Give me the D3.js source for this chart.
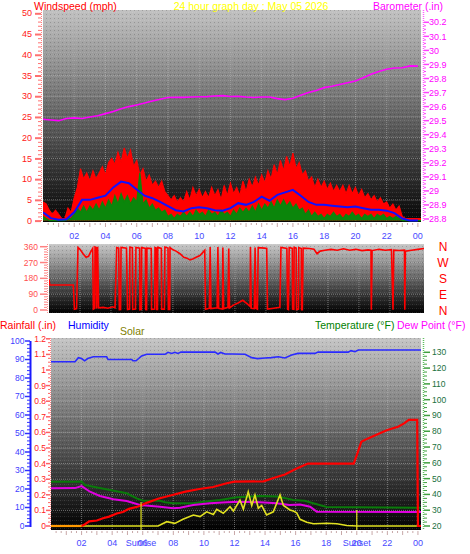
<!DOCTYPE html>
<html><head><meta charset="utf-8">
<script src="https://cdn.jsdelivr.net/npm/d3@7"></script>
<style>
body{margin:0;background:#fff}
svg{display:block}
text{font-family:"Liberation Sans",Arial,sans-serif}
</style>
</head><body>
<svg id="c" width="470" height="554"></svg>
<script>
// ---------------- DATA ----------------
const title = "24 hour graph day : May 05 2026";
const hourTicks = [2,4,6,8,10,12,14,16,18,20,22,24];
const hourLabels = ["02","04","06","08","10","12","14","16","18","20","22","00"];
const windTicks = [0,5,10,15,20,25,30,35,40,45,50];
const baroTicks = [28.8,28.9,29,29.1,29.2,29.3,29.4,29.5,29.6,29.7,29.8,29.9,30,30.1,30.2];
const dirTicks = [0,90,180,270,360];
const compass = ["N","W","S","E","N"];
const humTicks = [0,10,20,30,40,50,60,70,80,90,100];
const rainTicks = [0,0.1,0.2,0.3,0.4,0.5,0.6,0.7,0.8,0.9,1,1.1,1.2];
const tempTicks = [20,30,40,50,60,70,80,90,100,110,120,130];

// wind samples every 0.2 h (mph)
const windStep = 0.2;
const windGust = [4.5,4,2.5,1.5,2.5,1.5,0.5,0.5,3,2,5.5,8,12.5,10,11.5,9.5,12,10,11.5,13,
 11,14,15,13.5,16.5,14,17.5,15,17,13,14.5,11,12.5,9.5,11,8.5,9.5,8,9.5,7,
 6,5,6,4.5,5.5,4.5,7,5,8,6,7.5,5.5,7,5.5,8,6,7.5,5,8.5,6,
 9,6.5,8,6,9.5,7,10,8,10.5,8.5,11,9,12,10,13.5,11,14.5,12,15.5,13,
 16.3,12.5,14,11,12,9.5,10.5,8,10,8,9.5,7.5,9,7,8.5,7,8.5,6.5,8.5,6.5,
 8,6,7.5,5.5,6.5,5,6,4.5,5.5,4,4.5,3,4,2.5,3.5,1,0.5,0.5,0.5,0.5,0.5,0.5];
const windLow = [1,0.5,0,0,0,0,0,0,0.5,0.5,1.5,3,2,3.5,2,3.5,2.5,4,2.5,4.5,
 3,5,3.5,6,4,6.5,4.5,6,4,5.5,4.5,11.5,4,5,3,4,2.5,3,2,2.5,
 1,1.5,0.5,1.5,1,2,1,2,1,2.5,1.5,2,1,2.5,1.5,2,1,2.5,1.5,2,
 1,2.5,1.5,3,2,3,2,3.5,2,4,2.5,4,3,4.5,3,5,3.5,5,3.5,4.5,
 3,4,2.5,3,1.5,2.5,1,2,1,1.5,0.5,1.5,1,2,1,1.5,0.5,1.5,1,2,
 1,1.5,0.5,1.5,1,1.5,0.5,1.5,1,1.5,0.5,1,0.5,1,0.5,0,0,0,0,0,0,0];
// average wind every 0.5 h
const avgStep = 0.5;
const windAvg = [2,0.6,0.2,0.3,2,5,5,5.5,6,8,9.4,9,7.5,6,5.4,4.5,3.5,2.5,2.2,3,
 3.2,3,2.5,2.4,3,4.2,3.8,4.5,5.8,4.8,6.2,6.8,7.4,6,4.5,3.8,3.8,3.6,3.4,3.2,
 3.4,3,2.6,2.6,2.4,1.8,0.5,0,0];
// barometer every 0.5 h (inHg)
const baroStep = 0.5;
const baro = [29.51,29.505,29.50,29.515,29.52,29.515,29.526,29.535,29.55,29.565,29.585,29.60,29.612,29.625,29.64,29.652,
 29.665,29.667,29.666,29.668,29.67,29.671,29.675,29.678,29.672,29.673,29.668,29.665,29.668,29.668,29.657,29.65,
 29.66,29.68,29.70,29.715,29.735,29.745,29.757,29.77,29.782,29.805,29.83,29.85,29.866,29.875,29.877,29.89,29.888];

// wind direction [hour, degrees]
const windDir = [[0,175],[0.05,142],[1.57,142],[1.64,5],[1.78,8],[1.87,355],[2.0,345],[2.2,320],[2.39,300],[2.55,305],[2.69,330],[2.82,350],
 [2.86,5],[2.95,10],[2.97,358],[3.05,355],[3.08,8],[3.14,360],[3.2,12],[3.5,15],[3.8,10],[4.1,18],[4.26,12],
 [4.37,355],[4.5,352],[4.54,2],[4.62,3],[4.65,356],[5.0,352],[5.07,3],[5.2,5],[5.22,357],[5.38,355],[5.4,4],[5.58,6],[5.61,356],
 [5.85,352],[5.87,2],[5.96,4],[5.98,355],[6.22,350],[6.24,3],[6.3,2],[6.32,352],[6.6,350],[6.62,4],[6.82,6],[6.84,355],[6.93,352],[6.95,3],[7.0,3],[7.02,356],
 [7.25,350],[7.27,5],[7.45,5],[7.48,358],[7.68,352],[7.7,3],[7.79,3],[7.81,355],[8.0,342],[8.2,335],[8.45,320],[8.7,300],[8.9,295],[9.1,285],[9.31,292],
 [9.5,300],[9.74,310],[9.9,325],[10.05,340],[10.1,4],[10.35,10],[10.4,358],[10.45,8],[10.85,12],[10.9,358],[10.95,10],[11.2,5],[11.22,355],[11.27,8],
 [11.55,15],[11.6,350],[11.65,12],[11.9,28],[12.2,40],[12.5,55],[12.8,35],[12.98,20],[13.0,358],[13.05,10],[13.25,8],[13.3,355],[13.35,10],[13.45,5],[13.5,355],
 [13.9,352],[14.05,350],[14.1,5],[14.5,10],[14.9,15],[14.97,356],[15.35,350],[15.4,5],[15.45,3],[15.5,355],[15.7,350],[15.72,5],[15.8,4],[15.82,356],
 [15.95,352],[15.97,3],[16.1,5],[16.12,355],[16.28,350],[16.3,2],[16.35,2],[16.4,352],[16.8,350],[17.1,345],[17.3,320],[17.5,335],[17.8,340],
 [18.2,345],[18.6,340],[19.0,348],[19.4,340],[19.8,345],[20.2,338],[20.6,342],[20.78,340],[20.8,2],[20.85,338],[21.3,345],[21.7,340],[22.1,343],
 [22.2,2],[22.25,340],[22.6,338],[22.94,340],[22.96,2],[23.0,335],[23.4,340],[23.8,345],[24.2,350]];

// bottom panel
const humidity = [[0,88.8],[1.57,88.8],[1.79,91],[2.0,90.5],[2.2,89.3],[2.4,90.5],[2.77,91.5],[3.64,91.5],[3.73,90],[5.28,90],[5.36,89.3],[5.56,89.3],
 [5.93,91.9],[6.26,92.8],[7.46,92.8],[7.65,93.9],[7.9,93.3],[8.1,93.9],[8.3,93.3],[8.5,94],[10.73,94],[10.92,93],[11.1,93.8],[11.38,93],[11.84,93],
 [12.69,92.8],[13.13,91],[13.5,90.5],[14.0,90.8],[14.4,91],[14.87,91.5],[15.3,90.8],[15.74,92.4],[16.15,93.3],[17.27,93.3],[17.46,94],[19.44,94],
 [19.62,94.8],[19.88,94.2],[20.1,95.1],[24.2,95.1]];
const rainfall = [[0,0],[2.0,0],[2.2,0.01],[2.5,0.03],[3.0,0.035],[3.4,0.05],[3.8,0.06],[4.3,0.08],[4.7,0.09],[5.1,0.11],[5.7,0.125],[6.3,0.15],
 [7.0,0.175],[8.0,0.2],[8.8,0.22],[9.7,0.237],[10.6,0.25],[11.5,0.274],[12.0,0.284],[13.9,0.286],[14.5,0.306],[15.3,0.33],[16.0,0.365],[16.8,0.4],
 [19.8,0.40],[20.0,0.455],[20.3,0.54],[20.7,0.56],[21.4,0.59],[22.0,0.615],[22.7,0.636],[23.1,0.658],[23.4,0.68],[23.95,0.68],[24.0,0],[24.2,0]];
const temperature = [[0,48],[1.57,48],[2.0,48.2],[2.22,46],[2.77,44.9],[3.86,42.8],[4.95,40.7],[5.6,37.5],[6.04,36],[7.13,36],[7.46,35],[8.0,34.4],
 [9.3,34.4],[9.96,35.4],[11.05,36.5],[12.15,38.2],[13.67,39],[14.76,38.7],[15.4,37.5],[15.85,36.5],[16.6,36],[17.15,34.4],[18.03,32],[24.2,31.6]];
const dewPoint = [[0,43.9],[1.57,44],[2.0,45.3],[2.55,41.7],[3.2,39],[4.08,36.9],[4.95,35.8],[5.82,33.3],[7.13,32.2],[8.0,31.2],[8.44,31.6],[9.3,33.3],
 [10.4,34.4],[11.5,35],[12.36,35.4],[13.67,35],[14.76,34.4],[15.6,33.3],[16.29,33.6],[16.95,32.2],[17.38,29.1],[24.2,28.9]];
const solar = [[0,0],[7.0,0],[7.13,5],[7.57,23],[8.1,14],[8.63,36],[9.31,59],[9.75,50],[10.18,76],[10.62,62],[10.84,89],[11.27,68],[11.71,103],
 [11.93,80],[12.36,139],[12.58,90],[12.9,183],[13.13,110],[13.34,166],[13.56,95],[13.78,110],[14.1,59],[14.54,76],[14.98,166],[15.2,110],
 [15.63,86],[15.85,80],[16.07,70],[16.29,36],[16.73,20],[17.17,12],[18.05,15],[18.7,12],[19.35,3],[20.0,0],[24.2,0]];
const sunEvents = [{label:"Sunrise", hour:5.89},{label:"Sunset", hour:20.0}];

// ---------------- DRAW ----------------
const svg = d3.select("#c");
const defs = svg.append("defs");
function grad(id, c0, c1){
  const g = defs.append("linearGradient").attr("id",id).attr("x1",0).attr("y1",0).attr("x2",0).attr("y2",1);
  g.append("stop").attr("offset","0%").attr("stop-color",c0);
  g.append("stop").attr("offset","100%").attr("stop-color",c1);
}
grad("bgTop","#c2c2c2","#050505");
grad("bgMid","#c8c8c8","#000000");
grad("bgBot","#c6c6c6","#000000");
// dither texture
const pat = defs.append("pattern").attr("id","dith").attr("width",4).attr("height",4).attr("patternUnits","userSpaceOnUse");
pat.append("rect").attr("x",0).attr("y",0).attr("width",1).attr("height",1).attr("fill","#fff").attr("opacity",0.14);
pat.append("rect").attr("x",2).attr("y",2).attr("width",1).attr("height",1).attr("fill","#000").attr("opacity",0.18);
pat.append("rect").attr("x",2).attr("y",0).attr("width",1).attr("height",1).attr("fill","#fff").attr("opacity",0.07);

const P = {
  top:{x0:43,x1:421,y0:10,y1:222},
  mid:{x0:49,x1:424,y0:244,y1:313},
  bot:{x0:51,x1:421,y0:338,y1:530}
};
function panelBg(p, gid, cid){
  svg.append("rect").attr("x",p.x0).attr("y",p.y0).attr("width",p.x1-p.x0).attr("height",p.y1-p.y0).attr("fill",`url(#${gid})`);
  svg.append("rect").attr("x",p.x0).attr("y",p.y0).attr("width",p.x1-p.x0).attr("height",p.y1-p.y0).attr("fill","url(#dith)");
  defs.append("clipPath").attr("id",cid).append("rect").attr("x",p.x0).attr("y",p.y0).attr("width",p.x1-p.x0).attr("height",p.y1-p.y0);
}
panelBg(P.top,"bgTop","clipTop");
panelBg(P.mid,"bgMid","clipMid");
panelBg(P.bot,"bgBot","clipBot");

const gridCol = "#b8b8b8";
function hGrid(p, ys){
  svg.append("g").selectAll("line").data(ys).join("line")
    .attr("x1",p.x0).attr("x2",p.x1).attr("y1",d=>d).attr("y2",d=>d)
    .attr("stroke",gridCol).attr("stroke-opacity",0.55).attr("stroke-dasharray","1,1");
}
function vGrid(p, xs){
  svg.append("g").selectAll("line").data(xs).join("line")
    .attr("x1",d=>d).attr("x2",d=>d).attr("y1",p.y0).attr("y2",p.y1)
    .attr("stroke",gridCol).attr("stroke-opacity",0.55).attr("stroke-dasharray","1,1");
}

// ---- TOP PANEL ----
const xTop = d3.scaleLinear().domain([0,24.2]).range([P.top.x0,P.top.x1]);
const yWind = d3.scaleLinear().domain([0,50]).range([220.6,13.3]);
const yBaro = d3.scaleLinear().domain([28.8,30.2]).range([219,22.3]);
hGrid(P.top, windTicks.slice(1).map(yWind));
vGrid(P.top, hourTicks.slice(0,-1).map(xTop));

const gTop = svg.append("g").attr("clip-path","url(#clipTop)");
const windArea = (step)=>d3.area().x((d,i)=>xTop(i*step)).y0(yWind(0)).y1(d=>yWind(d));
const windLine = (step)=>d3.line().x((d,i)=>xTop(i*step)).y(d=>yWind(d));
gTop.append("path").datum(windGust).attr("d",windArea(windStep)).attr("fill","#ff0000");
gTop.append("path").datum(windGust).attr("d",windLine(windStep)).attr("fill","none").attr("stroke","#ff0000").attr("stroke-width",1.2);
gTop.append("path").datum(windLow).attr("d",windArea(windStep)).attr("fill","#0b860b");
gTop.append("path").datum(windLow).attr("d",windLine(windStep)).attr("fill","none").attr("stroke","#0b860b").attr("stroke-width",1.2);
gTop.append("path").datum(windAvg).attr("d",windLine(avgStep))
  .attr("fill","none").attr("stroke","#1010ff").attr("stroke-width",2);
gTop.append("path").datum(baro).attr("d",d3.line().x((d,i)=>xTop(i*baroStep)).y(d=>yBaro(d)))
  .attr("fill","none").attr("stroke","#ff00ff").attr("stroke-width",1.6);

// left wind axis
svg.append("line").attr("x1",41.5).attr("x2",41.5).attr("y1",P.top.y0).attr("y2",P.top.y1)
  .attr("stroke","#ff8080").attr("stroke-dasharray","1,1");
svg.append("g").selectAll("line").data(d3.range(0,51)).join("line")
  .attr("x1",d=>d%5===0?35:38).attr("x2",41).attr("y1",d=>yWind(d)+0.5).attr("y2",d=>yWind(d)+0.5)
  .attr("stroke","#ff7070").attr("stroke-width",d=>d%5===0?2:1);
svg.append("g").selectAll("text").data(windTicks).join("text")
  .attr("x",32).attr("y",d=>yWind(d)).attr("dy","0.35em").attr("text-anchor","end")
  .attr("font-size",9).attr("fill","#ff2020").text(d=>d);
// right baro axis
svg.append("line").attr("x1",423.5).attr("x2",423.5).attr("y1",P.top.y0).attr("y2",P.top.y1)
  .attr("stroke","#ff60ff").attr("stroke-dasharray","1,1").attr("stroke-width",1.5);
svg.append("g").selectAll("line").data(d3.range(0,57)).join("line")
  .attr("x1",424).attr("x2",d=>d%4===0?429:426).attr("y1",d=>yBaro(28.8+d*0.025)).attr("y2",d=>yBaro(28.8+d*0.025))
  .attr("stroke","#ff40ff").attr("stroke-width",d=>d%4===0?1.5:1);
svg.append("g").selectAll("text").data(baroTicks).join("text")
  .attr("x",429).attr("y",d=>yBaro(d)).attr("dy","0.35em")
  .attr("font-size",9).attr("fill","#ff00ff").text(d=>d3.format("~g")(d));
// hour ticks & labels top
svg.append("g").selectAll("line").data(d3.range(1,73)).join("line")
  .attr("x1",d=>xTop(d/3)).attr("x2",d=>xTop(d/3)).attr("y1",223).attr("y2",d=>d%3===0?227:225)
  .attr("stroke","#c8a8a8");
svg.append("g").selectAll("text").data(hourTicks).join("text")
  .attr("x",d=>xTop(d)).attr("y",239).attr("text-anchor","middle")
  .attr("font-size",9).attr("fill","#4848ff").text((d,i)=>hourLabels[i]);

// titles
svg.append("text").attr("x",34).attr("y",9.5).attr("font-size",10.5).attr("fill","#ff0000").text("Windspeed (mph)");
svg.append("text").attr("x",251).attr("y",9.5).attr("text-anchor","middle").attr("font-size",10.5).attr("fill","#ffff00").text(title);
svg.append("text").attr("x",443).attr("y",9.5).attr("text-anchor","end").attr("font-size",10.5).attr("fill","#ff00ff").text("Barometer (.in)");

// ---- MIDDLE PANEL ----
const xMid = d3.scaleLinear().domain([0,24.2]).range([P.mid.x0,P.mid.x1]);
const yDir = d3.scaleLinear().domain([0,360]).range([310,246.7]);
hGrid(P.mid, [90,180,270].map(yDir));
vGrid(P.mid, hourTicks.slice(0,-1).map(xMid));
svg.append("g").attr("clip-path","url(#clipMid)").append("path").datum(windDir)
  .attr("d",d3.line().x(d=>xMid(d[0])).y(d=>yDir(d[1])))
  .attr("fill","none").attr("stroke","#ff0000").attr("stroke-width",1.6);
svg.append("line").attr("x1",47.5).attr("x2",47.5).attr("y1",P.mid.y0).attr("y2",P.mid.y1)
  .attr("stroke","#ff9090").attr("stroke-dasharray","1,1");
svg.append("g").selectAll("line").data(d3.range(0,25)).join("line")
  .attr("x1",d=>d%6===0?40:44).attr("x2",47).attr("y1",d=>yDir(d*15)).attr("y2",d=>yDir(d*15))
  .attr("stroke","#ff8080").attr("stroke-width",d=>d%6===0?1.5:1);
svg.append("g").selectAll("text").data(dirTicks).join("text")
  .attr("x",38).attr("y",d=>yDir(d)).attr("dy","0.35em").attr("text-anchor","end")
  .attr("font-size",8.5).attr("fill","#ff5050").text(d=>d);
svg.append("g").selectAll("text").data(compass).join("text")
  .attr("x",443).attr("y",(d,i)=>yDir(360-i*90)).attr("dy","0.38em").attr("text-anchor","middle")
  .attr("font-size",12).attr("fill","#ff0000").text(d=>d);

// ---- BOTTOM PANEL ----
const xBot = d3.scaleLinear().domain([0,24.2]).range([P.bot.x0,P.bot.x1]);
const yRain = d3.scaleLinear().domain([0,1.2]).range([526,338.8]);
const yHum = d3.scaleLinear().domain([0,100]).range([526,341]);
const yTemp = d3.scaleLinear().domain([20,130]).range([526,352.3]);
const ySolar = d3.scaleLinear().domain([0,1000]).range([526,339]);
hGrid(P.bot, rainTicks.slice(1).map(yRain));
vGrid(P.bot, hourTicks.slice(0,-1).map(xBot));
const gBot = svg.append("g").attr("clip-path","url(#clipBot)");
const lineXY = (ys)=>d3.line().x(d=>xBot(d[0])).y(d=>ys(d[1]));
gBot.append("path").datum(humidity).attr("d",lineXY(yHum)).attr("fill","none").attr("stroke","#2a2aff").attr("stroke-width",1.6);
gBot.append("path").datum(temperature).attr("d",lineXY(yTemp)).attr("fill","none").attr("stroke","#0a7a0a").attr("stroke-width",2);
gBot.append("path").datum(dewPoint).attr("d",lineXY(yTemp)).attr("fill","none").attr("stroke","#e000e0").attr("stroke-width",2);
gBot.append("path").datum(solar).attr("d",lineXY(ySolar)).attr("fill","none").attr("stroke","#e0e020").attr("stroke-width",1.6);
gBot.append("path").datum(rainfall).attr("d",lineXY(yRain)).attr("fill","none").attr("stroke","#ff0000").attr("stroke-width",2.2);
// zero-rain overlap with zero-solar drawn orange
const dryStart = rainfall.filter((d,i)=>i<2);
gBot.append("path").datum(dryStart).attr("d",lineXY(yRain)).attr("fill","none").attr("stroke","#ff9900").attr("stroke-width",2.2);
gBot.selectAll("line.sun").data(sunEvents).join("line").attr("class","sun")
  .attr("x1",d=>xBot(d.hour)).attr("x2",d=>xBot(d.hour)).attr("y1",(d,i)=>i===0?502:510).attr("y2",P.bot.y1)
  .attr("stroke","#e0e020").attr("stroke-width",1.2);

// humidity axis
svg.append("line").attr("x1",30.5).attr("x2",30.5).attr("y1",341).attr("y2",527).attr("stroke","#1a1aff").attr("stroke-width",2);
svg.append("g").selectAll("line").data(d3.range(0,51)).join("line")
  .attr("x1",d=>d%5===0?25:27).attr("x2",30).attr("y1",d=>yHum(d*2)).attr("y2",d=>yHum(d*2))
  .attr("stroke","#3030ff").attr("stroke-width",d=>d%5===0?1.5:1);
svg.append("g").selectAll("text").data(humTicks).join("text")
  .attr("x",24.5).attr("y",d=>yHum(d)).attr("dy","0.35em").attr("text-anchor","end")
  .attr("font-size",8.5).attr("fill","#4040ff").text(d=>d);
// rain axis
svg.append("line").attr("x1",50.5).attr("x2",50.5).attr("y1",P.bot.y0).attr("y2",P.bot.y1)
  .attr("stroke","#ff8080").attr("stroke-dasharray","1,1");
svg.append("g").selectAll("line").data(d3.range(0,49)).join("line")
  .attr("x1",d=>d%4===0?46:48).attr("x2",50).attr("y1",d=>yRain(d*0.025)).attr("y2",d=>yRain(d*0.025))
  .attr("stroke","#ff6060").attr("stroke-width",d=>d%4===0?1.5:1);
svg.append("g").selectAll("text").data(rainTicks).join("text")
  .attr("x",46).attr("y",d=>yRain(d)).attr("dy","0.35em").attr("text-anchor","end")
  .attr("font-size",8.5).attr("fill","#ff2020").text(d=>d3.format("~g")(d));
// temperature axis
svg.append("line").attr("x1",423.5).attr("x2",423.5).attr("y1",P.bot.y0).attr("y2",P.bot.y1)
  .attr("stroke","#60c060").attr("stroke-dasharray","1,1").attr("stroke-width",1.5);
svg.append("g").selectAll("line").data(d3.range(0,45)).join("line")
  .attr("x1",424).attr("x2",d=>d%4===0?430:427).attr("y1",d=>yTemp(20+d*2.5)).attr("y2",d=>yTemp(20+d*2.5))
  .attr("stroke","#40a040").attr("stroke-width",d=>d%4===0?1.5:1);
svg.append("g").selectAll("text").data(tempTicks).join("text")
  .attr("x",432).attr("y",d=>yTemp(d)).attr("dy","0.35em")
  .attr("font-size",8.5).attr("fill","#207040").text(d=>d);
// bottom hour ticks & labels
svg.append("g").selectAll("line").data(d3.range(1,73)).join("line")
  .attr("x1",d=>xBot(d/3)).attr("x2",d=>xBot(d/3)).attr("y1",531).attr("y2",d=>d%3===0?535:533)
  .attr("stroke","#c8a8a8");
svg.append("g").selectAll("text").data(hourTicks).join("text")
  .attr("x",d=>xBot(d)).attr("y",546).attr("text-anchor","middle")
  .attr("font-size",9).attr("fill","#4848ff").text((d,i)=>hourLabels[i]);
svg.append("g").selectAll("text").data(sunEvents).join("text")
  .attr("x",d=>xBot(d.hour)).attr("y",546).attr("text-anchor","middle")
  .attr("font-size",9).attr("fill","#4848ff").text(d=>d.label);
// bottom titles
svg.append("text").attr("x",0).attr("y",329).attr("font-size",10.5).attr("fill","#ff0000").text("Rainfall (.in)");
svg.append("text").attr("x",68).attr("y",329).attr("font-size",10.5).attr("fill","#0000ff").text("Humidity");
svg.append("text").attr("x",120).attr("y",335).attr("font-size",10.5).attr("fill","#808000").text("Solar");
svg.append("text").attr("x",315).attr("y",329).attr("font-size",10.5).attr("fill","#008000").text("Temperature (°F)");
svg.append("text").attr("x",397).attr("y",329).attr("font-size",10.5).attr("fill","#ff00ff").text("Dew Point (°F)");
</script>
</body></html>
